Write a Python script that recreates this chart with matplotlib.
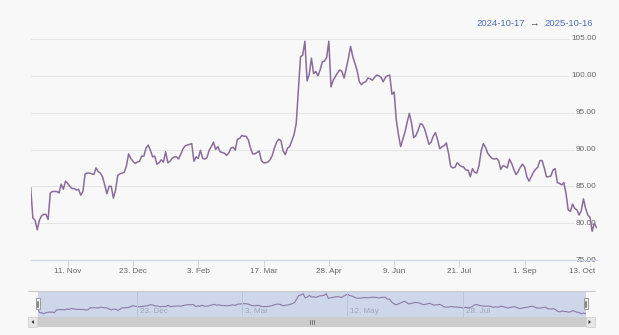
import numpy as np
import pandas as pd
import matplotlib
matplotlib.use('Agg')
import matplotlib.pyplot as plt
import matplotlib.transforms as mtransforms
from matplotlib.patches import Rectangle, Polygon
from matplotlib.lines import Line2D

plt.rcParams['font.family'] = ['Liberation Sans', 'DejaVu Sans']

# daily closing values, one per trading day
start_date = '2024-10-17'
end_date = '2025-10-16'
prices = [
    84.8, 80.7, 80.4, 79.1, 80.4, 81.0, 81.2, 81.2, 80.5, 84.1,
    84.3, 84.3, 84.3, 84.1, 85.3, 84.6, 85.7, 85.4, 85.0, 84.7,
    84.7, 84.5, 84.6, 83.8, 84.3, 86.7, 86.8, 86.8, 86.7, 86.6,
    87.5, 87.0, 86.8, 86.3, 85.2, 84.0, 85.0, 85.0, 83.4, 84.5,
    86.5, 86.7, 86.8, 86.9, 87.8, 89.4, 88.8, 88.4, 88.1, 88.3,
    88.4, 89.1, 89.1, 90.2, 90.6, 89.9, 89.0, 89.1, 88.0, 88.2,
    88.6, 88.3, 89.7, 88.2, 88.4, 88.8, 89.0, 89.0, 88.7, 89.4,
    90.1, 90.5, 90.6, 90.7, 90.8, 88.4, 89.0, 88.8, 89.9, 88.8,
    88.7, 88.9, 89.9, 90.4, 91.0, 90.0, 90.4, 89.7, 89.6, 89.5,
    89.2, 89.5, 90.2, 90.3, 89.9, 91.4, 91.5, 91.9, 91.8, 91.8,
    91.3, 90.2, 89.4, 89.4, 89.6, 89.8, 88.5, 88.2, 88.2, 88.3,
    88.6, 89.2, 90.2, 91.0, 91.4, 91.2, 89.8, 89.3, 90.2, 90.4,
    91.2, 92.0, 93.5, 98.0, 102.6, 102.8, 104.7, 99.3, 100.2, 102.4,
    100.3, 100.6, 100.0, 100.8, 101.9, 102.0, 102.5, 104.7, 98.5, 99.4,
    99.9, 100.4, 100.8, 100.6, 99.7, 101.0, 102.4, 104.0, 102.6, 101.7,
    100.7, 99.2, 98.8, 99.1, 99.2, 99.7, 99.6, 99.4, 99.8, 100.1,
    100.0, 99.8, 99.2, 99.8, 100.0, 100.1, 97.5, 97.8, 94.0, 92.0,
    90.4, 91.4, 92.4, 93.7, 94.9, 93.6, 91.6, 91.9, 92.6, 93.5,
    93.4, 92.8, 91.8, 90.7, 91.0, 91.8, 92.3, 91.3, 90.1, 90.4,
    90.5, 90.9, 89.5, 87.7, 87.5, 87.6, 88.2, 87.9, 87.7, 87.6,
    87.2, 87.2, 86.3, 87.4, 86.9, 86.8, 87.8, 89.8, 90.8, 90.3,
    89.5, 89.1, 88.8, 88.7, 88.8, 88.5, 87.3, 87.8, 87.7, 87.5,
    88.7, 88.1, 87.3, 86.6, 87.0, 87.6, 88.0, 87.6, 86.3, 85.7,
    86.3, 86.9, 87.3, 87.6, 88.5, 88.5, 87.5, 86.3, 86.3, 86.4,
    87.2, 87.4, 85.5, 85.4, 85.2, 85.5, 84.0, 81.8, 81.6, 82.6,
    82.0, 81.8, 81.1, 81.7, 83.3, 82.0, 81.1, 80.8, 78.9, 80.0,
    79.4,
]
y_ticks = [75, 80, 85, 90, 95, 100, 105]
x_tick_dates = ['2024-11-11', '2024-12-23', '2025-02-03', '2025-03-17', '2025-04-28',
                '2025-06-09', '2025-07-21', '2025-09-01', '2025-10-13']
nav_tick_dates = ['2024-12-23', '2025-03-03', '2025-05-12', '2025-07-28']

dates = pd.bdate_range(start_date, end_date)
pos = np.arange(len(dates))  # ordinal axis: one slot per trading day


def fmt_day(d):
    d = pd.Timestamp(d)
    return f'{d.day}. {d:%b}'


bg = '#f8f8f8'
line_color = '#8a6c9b'
label_color = '#666666'
axis_color = '#ccd6eb'

W, H = 619, 335
fig = plt.figure(figsize=(W / 100, H / 100), dpi=100, facecolor=bg)


def box(x0, y0, x1, y1):
    return [x0 / W, 1 - y1 / H, (x1 - x0) / W, (y1 - y0) / H]


def px(x, y):
    return x / W, 1 - y / H


# main price chart
ax = fig.add_axes(box(30.7, 39, 596.5, 260))
ax.set_facecolor(bg)
ax.plot(pos, prices, color=line_color, lw=1.1, zorder=3, solid_joinstyle='round')
ax.set_xlim(0, len(dates) - 1)
ax.set_ylim(75, 105)
ax.set_yticks(y_ticks)
ax.yaxis.grid(True, color='#e6e6e6', lw=0.8)
ax.set_axisbelow(True)
ax.tick_params(axis='y', left=False, labelleft=False)
for s in ['left', 'right', 'top']:
    ax.spines[s].set_visible(False)
ax.spines['bottom'].set_color(axis_color)
ax.spines['bottom'].set_linewidth(0.8)

for v in y_ticks:
    ax.text(1.0, v, f'{v:.2f}', transform=ax.get_yaxis_transform(), ha='right', va='center',
            fontsize=5.9, color=label_color, zorder=2,
            bbox=dict(facecolor=bg, edgecolor='none', pad=0.6))

tick_pos = [dates.get_loc(pd.Timestamp(d)) for d in x_tick_dates]
ax.set_xticks(tick_pos)
ax.set_xticklabels([fmt_day(d) for d in x_tick_dates])
ax.tick_params(axis='x', length=5, width=0.8, color=axis_color, labelsize=5.9,
               labelcolor=label_color, pad=1)
last = ax.get_xticklabels()[-1]
last.set_ha('right')
last.set_transform(last.get_transform() + mtransforms.ScaledTranslation(0.05, 0, fig.dpi_scale_trans))

# selected range in the top right corner
blue = '#4a6fb5'
fig.text(*px(525, 24), start_date, ha='right', va='center', fontsize=6.8, color=blue)
fig.text(*px(534.7, 24), '\u2192', ha='center', va='center', fontsize=6.8, color='#444444')
fig.text(*px(593, 24), end_date, ha='right', va='center', fontsize=6.8, color=blue)

# navigator
nav = fig.add_axes(box(37.5, 291, 585.5, 317))
nav.set_facecolor('#cdd6ea')
nav.plot(pos, prices, color='#8c7aa8', lw=0.8)
nav.set_xlim(0, len(dates) - 1)
nav.set_ylim(75, 108)
nav.set_xticks([])
nav.set_yticks([])
for s in nav.spines.values():
    s.set_visible(False)
for d in nav_tick_dates:
    p = dates.get_loc(pd.Timestamp(d))
    nav.axvline(p, color='#b8c3dc', lw=0.7)
    nav.text(p, 0.2, fmt_day(d), transform=nav.get_xaxis_transform(), ha='left', va='center',
             fontsize=5.9, color='#9ca6bc')
    nav.texts[-1].set_transform(nav.get_xaxis_transform() +
                                mtransforms.ScaledTranslation(0.03, 0, fig.dpi_scale_trans))

# navigator outline and handles
fig.add_artist(Line2D([28 / W, 595 / W], [1 - 291 / H] * 2, color='#cccccc', lw=0.8))
for hx in (37.5, 585.5):
    fig.add_artist(Rectangle(px(hx - 2, 309), 4 / W, 11 / H, transform=fig.transFigure,
                             facecolor='#f2f2f2', edgecolor='#999999', lw=0.7))
    for gx in (hx - 0.7, hx + 0.7):
        fig.add_artist(Line2D([gx / W] * 2, [1 - 300.5 / H, 1 - 306.5 / H], color='#333333', lw=0.4))

# scrollbar
fig.add_artist(Rectangle(px(28, 327), 567 / W, 10 / H, transform=fig.transFigure,
                         facecolor='#f2f2f2', edgecolor='none'))
fig.add_artist(Rectangle(px(37.5, 327), 548 / W, 10 / H, transform=fig.transFigure,
                         facecolor='#cccccc', edgecolor='none'))
for bx0, tri in ((28, [(34, 320), (34, 324), (31.5, 322)]),
                 (586, [(588.5, 320), (588.5, 324), (591, 322)])):
    fig.add_artist(Rectangle(px(bx0, 327), 9 / W, 10 / H, transform=fig.transFigure,
                             facecolor='#e6e6e6', edgecolor='#cccccc', lw=0.5))
    fig.add_artist(Polygon([px(*t) for t in tri], closed=True, transform=fig.transFigure,
                           facecolor='#333333', edgecolor='none'))
for gx in (310, 312, 314):
    fig.add_artist(Line2D([gx / W] * 2, [1 - 320 / H, 1 - 324 / H], color='#555555', lw=0.5))

fig.savefig('out.png', dpi=100, facecolor=bg)
